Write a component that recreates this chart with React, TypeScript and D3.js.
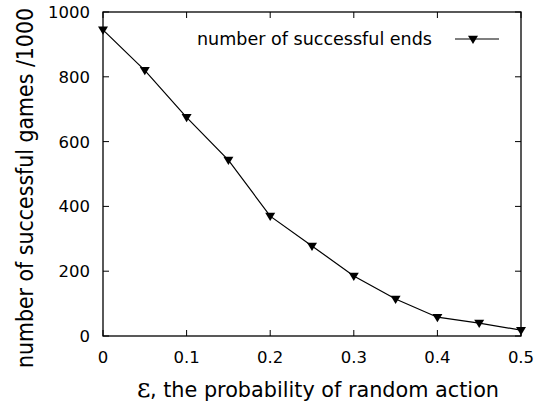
import React from "react";
import * as d3 from "d3";

const epsilons = [0, 0.05, 0.1, 0.15, 0.2, 0.25, 0.3, 0.35, 0.4, 0.45, 0.5];
const successes = [945, 820, 675, 543, 370, 278, 185, 114, 58, 40, 18];
const xTicks = [0, 0.1, 0.2, 0.3, 0.4, 0.5];
const yTicks = [0, 200, 400, 600, 800, 1000];
const seriesName = "number of successful ends";
const xTitleRest = ", the probability of random action";
const yTitle = "number of successful games /1000";

const W = 543, H = 408;
const M = { left: 103, right: 521, top: 12, bottom: 336 };
const font = "Tahoma, 'DejaVu Sans', Verdana, sans-serif";

function Tri({ x, y, s = 5 }: { x: number; y: number; s?: number }) {
  return <path d={`M${x - s},${y - s * 0.65} L${x + s},${y - s * 0.65} L${x},${y + s * 1.0} Z`} fill="#000" />;
}

export default function App() {
  const x = d3.scaleLinear().domain([0, 0.5]).range([M.left, M.right]);
  const y = d3.scaleLinear().domain([0, 1000]).range([M.bottom, M.top]);
  const line = d3.line<number>().x((_, i) => x(epsilons[i])).y((d) => y(d));
  const tl = 6;
  return (
    <svg width={W} height={H} style={{ position: "absolute", left: 0, top: 0 }} fontFamily={font}>
      <rect x={0} y={0} width={W} height={H} fill="#fff" />
      {xTicks.map((t) => (
        <g key={"x" + t}>
          <line x1={x(t)} x2={x(t)} y1={M.bottom} y2={M.bottom - tl} stroke="#000" />
          <line x1={x(t)} x2={x(t)} y1={M.top} y2={M.top + tl} stroke="#000" />
          <text x={x(t)} y={363} textAnchor="middle" fontSize={16.5}>{String(t)}</text>
        </g>
      ))}
      {yTicks.map((t) => (
        <g key={"y" + t}>
          <line x1={M.left} x2={M.left + tl} y1={y(t)} y2={y(t)} stroke="#000" />
          <line x1={M.right} x2={M.right - tl} y1={y(t)} y2={y(t)} stroke="#000" />
          <text x={M.left - 13} y={y(t) + 6} textAnchor="end" fontSize={16.5}>{String(t)}</text>
        </g>
      ))}
      <rect x={M.left} y={M.top} width={M.right - M.left} height={M.bottom - M.top} fill="none" stroke="#000" strokeWidth={1.3} />
      <path d={line(successes) || ""} fill="none" stroke="#000" strokeWidth={1.2} />
      {successes.map((v, i) => (
        <Tri key={i} x={x(epsilons[i])} y={y(v)} />
      ))}
      <text x={197} y={45} fontSize={17} textLength={235} lengthAdjust="spacingAndGlyphs">{seriesName}</text>
      <line x1={455} x2={499} y1={39} y2={39} stroke="#000" strokeWidth={1.2} />
      <Tri x={473} y={39} />
      <text x={137} y={397} fontSize={26} fontFamily="'DejaVu Serif', serif">{"\u03B5"}</text>
      <text x={150} y={397} fontSize={21} textLength={349} lengthAdjust="spacingAndGlyphs">{xTitleRest}</text>
      <text transform={`translate(33,368) rotate(-90)`} textAnchor="start" fontSize={22.5} textLength={360} lengthAdjust="spacingAndGlyphs">{yTitle}</text>
    </svg>
  );
}
